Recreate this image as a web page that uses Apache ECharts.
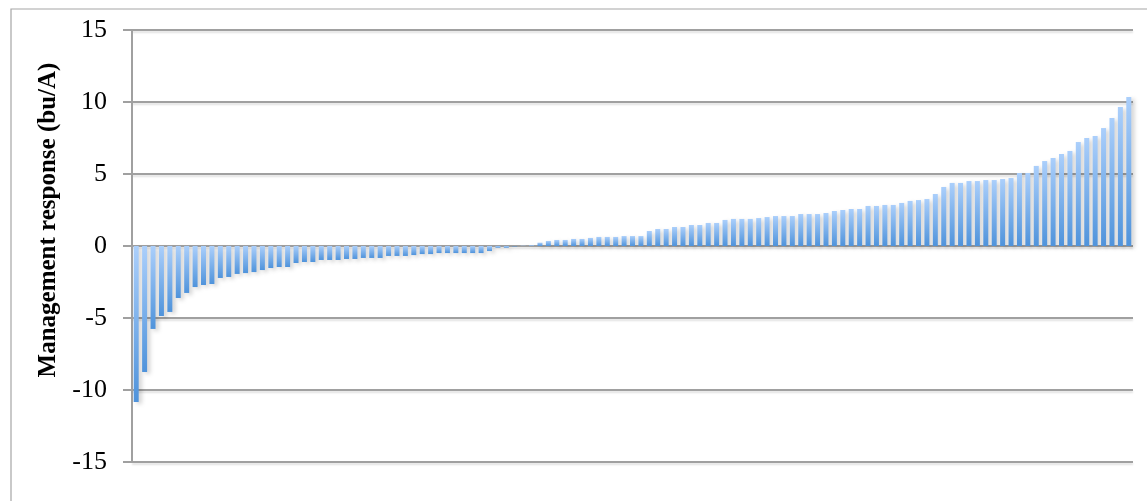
<!DOCTYPE html>
<html>
<head>
<meta charset="utf-8">
<script src="https://cdn.jsdelivr.net/npm/echarts@6/dist/echarts.min.js"></script>
<style>
html,body{margin:0;padding:0;background:#fff;}
#chart{width:1147px;height:501px;}
</style>
</head>
<body>
<div id="chart"></div>
<script>
// Sorted management responses (bu/A)
const responses = [
  -10.83, -8.75, -5.76, -4.86, -4.58, -3.61, -3.26, -2.85, -2.71, -2.64,
  -2.22, -2.15, -1.94, -1.88, -1.81, -1.67, -1.53, -1.46, -1.46, -1.18,
  -1.11, -1.11, -0.97, -0.97, -0.97, -0.90, -0.90, -0.83, -0.83, -0.83,
  -0.69, -0.69, -0.69, -0.63, -0.56, -0.56, -0.49, -0.49, -0.49, -0.49,
  -0.49, -0.49, -0.35, -0.12, -0.12, -0.03, 0.02, 0.05, 0.23, 0.35,
  0.42, 0.42, 0.49, 0.49, 0.56, 0.63, 0.63, 0.63, 0.69, 0.69,
  0.69, 1.04, 1.18, 1.18, 1.32, 1.32, 1.46, 1.46, 1.60, 1.60,
  1.81, 1.88, 1.88, 1.88, 1.94, 2.01, 2.08, 2.08, 2.08, 2.22,
  2.22, 2.22, 2.29, 2.43, 2.50, 2.57, 2.57, 2.78, 2.78, 2.85,
  2.85, 2.99, 3.13, 3.19, 3.26, 3.61, 4.10, 4.38, 4.38, 4.51,
  4.51, 4.58, 4.58, 4.65, 4.72, 5.07, 5.07, 5.56, 5.90, 6.11,
  6.39, 6.60, 7.22, 7.50, 7.64, 8.19, 8.89, 9.65, 10.35
];
const categories = responses.map((_, i) => String(i + 1));
const yTicks = [-15, -10, -5, 0, 5, 10, 15];
const yTitle = 'Management response (bu/A)';

const chart = echarts.init(document.getElementById('chart'), null, {renderer: 'canvas'});
chart.setOption({
  animation: false,
  backgroundColor: '#ffffff',
  grid: {left: 132, right: 14, top: 30, bottom: 39, containLabel: false},
  xAxis: {
    type: 'category',
    data: categories,
    axisLine: {show: false},
    axisTick: {show: false},
    axisLabel: {show: false},
    splitLine: {show: false}
  },
  yAxis: {
    type: 'value',
    min: yTicks[0],
    max: yTicks[yTicks.length - 1],
    interval: 5,
    axisLine: {show: true, lineStyle: {color: '#a0a0a0', width: 2}},
    axisTick: {show: true, inside: false, length: 9, lineStyle: {color: '#a0a0a0', width: 2}},
    axisLabel: {
      margin: 25,
      color: '#000',
      fontFamily: 'Liberation Serif',
      fontSize: 26
    },
    splitLine: {show: true, lineStyle: {color: '#a0a0a0', width: 2,
      shadowColor: 'rgba(0,0,0,0.12)', shadowBlur: 2, shadowOffsetY: 2}}
  },
  graphic: [
    {
      type: 'rect', silent: true,
      shape: {x: 11, y: 9, width: 1300, height: 700},
      style: {fill: 'none', stroke: '#a6a6a6', lineWidth: 1.2}
    },
    {
      type: 'text', silent: true,
      x: 49, y: 220, rotation: Math.PI / 2,
      style: {
        text: yTitle,
        fontFamily: 'Liberation Serif',
        fontWeight: 'bold',
        fontSize: 25,
        fill: '#000',
        align: 'center',
        verticalAlign: 'middle'
      }
    }
  ],
  series: [{
    type: 'bar',
    data: responses,
    barWidth: 5,
    itemStyle: {
      color: new echarts.graphic.LinearGradient(0, 0, 0, 1, [
        {offset: 0, color: '#abcffb'},
        {offset: 1, color: '#4f93db'}
      ]),
      shadowColor: 'rgba(0,0,0,0.18)',
      shadowBlur: 4,
      shadowOffsetX: 3,
      shadowOffsetY: 2
    }
  }]
});
</script>
</body>
</html>
